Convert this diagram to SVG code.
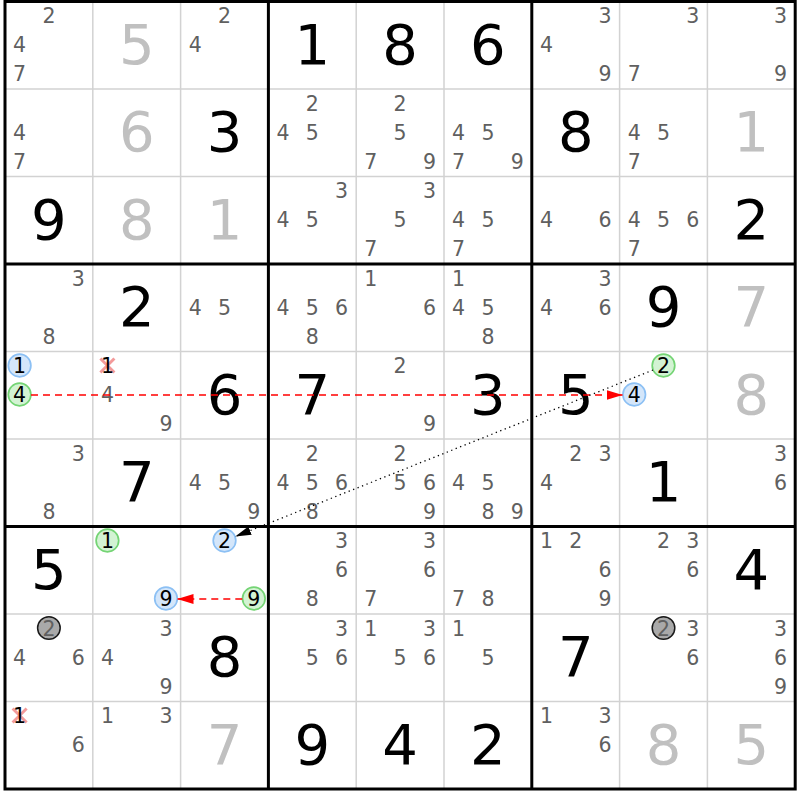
<svg xmlns="http://www.w3.org/2000/svg" width="800" height="800" viewBox="0 0 800 800">
<style>
text{font-family:"DejaVu Sans","Liberation Sans",sans-serif;text-anchor:middle}
.c{font-size:20.5px;fill:#606060}
.k{font-size:20.5px;fill:#000}
.g{font-size:56px;fill:#000}
.s{font-size:56px;fill:#c0c0c0}
.thin{stroke:#d2d2d2;stroke-width:1.5}
.thick{stroke:#000;stroke-width:3}
.bl{fill:#d4e6fa;stroke:#8cc0f4;stroke-width:1.7}
.gr{fill:#d3f3d3;stroke:#74d474;stroke-width:1.7}
.gy{fill:#a9a9a9;stroke:#1a1a1a;stroke-width:1.5}
.x{stroke:#f39a9a;stroke-width:3}
.red{stroke:#ff0000;stroke-width:1.5;stroke-dasharray:7 5;fill:none}
.dot{stroke:#000;stroke-width:1.3;stroke-dasharray:1.3 3.5;fill:none}
</style>
<defs>
<marker id="ar" markerUnits="userSpaceOnUse" markerWidth="16" markerHeight="10" refX="16" refY="5" orient="auto"><path d="M0,0 L16,5 L0,10 z" fill="#ff0000"/></marker>
<marker id="ab" markerUnits="userSpaceOnUse" markerWidth="16" markerHeight="9" refX="16" refY="4.5" orient="auto"><path d="M0,0 L16,4.5 L0,9 z" fill="#000"/></marker>
</defs>
<rect x="0" y="0" width="800" height="800" fill="#fff"/>
<g id="grid">
<g class="thin">
<line x1="92.8" y1="1.5" x2="92.8" y2="789"/><line x1="180.6" y1="1.5" x2="180.6" y2="789"/>
<line x1="356.2" y1="1.5" x2="356.2" y2="789"/><line x1="444" y1="1.5" x2="444" y2="789"/>
<line x1="619.6" y1="1.5" x2="619.6" y2="789"/><line x1="707.4" y1="1.5" x2="707.4" y2="789"/>
<line x1="5" y1="89" x2="795.2" y2="89"/><line x1="5" y1="176.5" x2="795.2" y2="176.5"/>
<line x1="5" y1="351.5" x2="795.2" y2="351.5"/><line x1="5" y1="439" x2="795.2" y2="439"/>
<line x1="5" y1="614" x2="795.2" y2="614"/><line x1="5" y1="701.5" x2="795.2" y2="701.5"/>
</g>
<g class="thick">
<line x1="268.4" y1="1.5" x2="268.4" y2="789"/><line x1="531.8" y1="1.5" x2="531.8" y2="789"/>
<line x1="5" y1="264" x2="795.2" y2="264"/><line x1="5" y1="526.5" x2="795.2" y2="526.5"/>
<rect x="5" y="1.5" width="790.2" height="787.5" fill="none"/>
</g>
</g>
<g id="r1">
<g id="r1c1"><text class="c" x="48.9" y="23">2</text><text class="c" x="19.6" y="52">4</text><text class="c" x="19.6" y="81">7</text></g>
<g id="r1c2"><text class="s" x="136.7" y="63.5">5</text></g>
<g id="r1c3"><text class="c" x="224.5" y="23">2</text><text class="c" x="195.2" y="52">4</text></g>
<g id="r1c4"><text class="g" x="312.3" y="63.5">1</text></g>
<g id="r1c5"><text class="g" x="400.1" y="63.5">8</text></g>
<g id="r1c6"><text class="g" x="487.9" y="63.5">6</text></g>
<g id="r1c7"><text class="c" x="605" y="23">3</text><text class="c" x="546.4" y="52">4</text><text class="c" x="605" y="81">9</text></g>
<g id="r1c8"><text class="c" x="692.8" y="23">3</text><text class="c" x="634.2" y="81">7</text></g>
<g id="r1c9"><text class="c" x="780.6" y="23">3</text><text class="c" x="780.6" y="81">9</text></g>
</g>
<g id="r2">
<g id="r2c1"><text class="c" x="19.6" y="139.5">4</text><text class="c" x="19.6" y="168.5">7</text></g>
<g id="r2c2"><text class="s" x="136.7" y="151">6</text></g>
<g id="r2c3"><text class="g" x="224.5" y="151">3</text></g>
<g id="r2c4"><text class="c" x="312.3" y="110.5">2</text><text class="c" x="283" y="139.5">4</text><text class="c" x="312.3" y="139.5">5</text></g>
<g id="r2c5"><text class="c" x="400.1" y="110.5">2</text><text class="c" x="400.1" y="139.5">5</text><text class="c" x="370.8" y="168.5">7</text><text class="c" x="429.4" y="168.5">9</text></g>
<g id="r2c6"><text class="c" x="458.6" y="139.5">4</text><text class="c" x="487.9" y="139.5">5</text><text class="c" x="458.6" y="168.5">7</text><text class="c" x="517.2" y="168.5">9</text></g>
<g id="r2c7"><text class="g" x="575.7" y="151">8</text></g>
<g id="r2c8"><text class="c" x="634.2" y="139.5">4</text><text class="c" x="663.5" y="139.5">5</text><text class="c" x="634.2" y="168.5">7</text></g>
<g id="r2c9"><text class="s" x="751.3" y="151">1</text></g>
</g>
<g id="r3">
<g id="r3c1"><text class="g" x="48.9" y="238.5">9</text></g>
<g id="r3c2"><text class="s" x="136.7" y="238.5">8</text></g>
<g id="r3c3"><text class="s" x="224.5" y="238.5">1</text></g>
<g id="r3c4"><text class="c" x="341.6" y="198">3</text><text class="c" x="283" y="227">4</text><text class="c" x="312.3" y="227">5</text></g>
<g id="r3c5"><text class="c" x="429.4" y="198">3</text><text class="c" x="400.1" y="227">5</text><text class="c" x="370.8" y="256">7</text></g>
<g id="r3c6"><text class="c" x="458.6" y="227">4</text><text class="c" x="487.9" y="227">5</text><text class="c" x="458.6" y="256">7</text></g>
<g id="r3c7"><text class="c" x="546.4" y="227">4</text><text class="c" x="605" y="227">6</text></g>
<g id="r3c8"><text class="c" x="634.2" y="227">4</text><text class="c" x="663.5" y="227">5</text><text class="c" x="692.8" y="227">6</text><text class="c" x="634.2" y="256">7</text></g>
<g id="r3c9"><text class="g" x="751.3" y="238.5">2</text></g>
</g>
<g id="r4">
<g id="r4c1"><text class="c" x="78.2" y="285.5">3</text><text class="c" x="48.9" y="343.5">8</text></g>
<g id="r4c2"><text class="g" x="136.7" y="326">2</text></g>
<g id="r4c3"><text class="c" x="195.2" y="314.5">4</text><text class="c" x="224.5" y="314.5">5</text></g>
<g id="r4c4"><text class="c" x="283" y="314.5">4</text><text class="c" x="312.3" y="314.5">5</text><text class="c" x="341.6" y="314.5">6</text><text class="c" x="312.3" y="343.5">8</text></g>
<g id="r4c5"><text class="c" x="370.8" y="285.5">1</text><text class="c" x="429.4" y="314.5">6</text></g>
<g id="r4c6"><text class="c" x="458.6" y="285.5">1</text><text class="c" x="458.6" y="314.5">4</text><text class="c" x="487.9" y="314.5">5</text><text class="c" x="487.9" y="343.5">8</text></g>
<g id="r4c7"><text class="c" x="605" y="285.5">3</text><text class="c" x="546.4" y="314.5">4</text><text class="c" x="605" y="314.5">6</text></g>
<g id="r4c8"><text class="g" x="663.5" y="326">9</text></g>
<g id="r4c9"><text class="s" x="751.3" y="326">7</text></g>
</g>
<g id="r5">
<g id="r5c1"><circle class="bl" cx="19.6" cy="365.5" r="11.3"/><text class="k" x="19.6" y="373">1</text><circle class="gr" cx="19.6" cy="394.5" r="11.3"/><text class="k" x="19.6" y="402">4</text></g>
<g id="r5c2"><line class="x" x1="100.4" y1="358.5" x2="114.4" y2="372.5"/><line class="x" x1="114.4" y1="358.5" x2="100.4" y2="372.5"/><text class="k" x="107.4" y="373">1</text><text class="c" x="107.4" y="402">4</text><text class="c" x="166" y="431">9</text></g>
<g id="r5c3"><text class="g" x="224.5" y="413.5">6</text></g>
<g id="r5c4"><text class="g" x="312.3" y="413.5">7</text></g>
<g id="r5c5"><text class="c" x="400.1" y="373">2</text><text class="c" x="429.4" y="431">9</text></g>
<g id="r5c6"><text class="g" x="487.9" y="413.5">3</text></g>
<g id="r5c7"><text class="g" x="575.7" y="413.5">5</text></g>
<g id="r5c8"><circle class="gr" cx="663.5" cy="365.5" r="11.3"/><text class="k" x="663.5" y="373">2</text><circle class="bl" cx="634.2" cy="394.5" r="11.3"/><text class="k" x="634.2" y="402">4</text></g>
<g id="r5c9"><text class="s" x="751.3" y="413.5">8</text></g>
</g>
<g id="r6">
<g id="r6c1"><text class="c" x="78.2" y="460.5">3</text><text class="c" x="48.9" y="518.5">8</text></g>
<g id="r6c2"><text class="g" x="136.7" y="501">7</text></g>
<g id="r6c3"><text class="c" x="195.2" y="489.5">4</text><text class="c" x="224.5" y="489.5">5</text><text class="c" x="253.8" y="518.5">9</text></g>
<g id="r6c4"><text class="c" x="312.3" y="460.5">2</text><text class="c" x="283" y="489.5">4</text><text class="c" x="312.3" y="489.5">5</text><text class="c" x="341.6" y="489.5">6</text><text class="c" x="312.3" y="518.5">8</text></g>
<g id="r6c5"><text class="c" x="400.1" y="460.5">2</text><text class="c" x="400.1" y="489.5">5</text><text class="c" x="429.4" y="489.5">6</text><text class="c" x="429.4" y="518.5">9</text></g>
<g id="r6c6"><text class="c" x="458.6" y="489.5">4</text><text class="c" x="487.9" y="489.5">5</text><text class="c" x="487.9" y="518.5">8</text><text class="c" x="517.2" y="518.5">9</text></g>
<g id="r6c7"><text class="c" x="575.7" y="460.5">2</text><text class="c" x="605" y="460.5">3</text><text class="c" x="546.4" y="489.5">4</text></g>
<g id="r6c8"><text class="g" x="663.5" y="501">1</text></g>
<g id="r6c9"><text class="c" x="780.6" y="460.5">3</text><text class="c" x="780.6" y="489.5">6</text></g>
</g>
<g id="r7">
<g id="r7c1"><text class="g" x="48.9" y="588.5">5</text></g>
<g id="r7c2"><circle class="gr" cx="107.4" cy="540.5" r="11.3"/><text class="k" x="107.4" y="548">1</text><circle class="bl" cx="166" cy="598.5" r="11.3"/><text class="k" x="166" y="606">9</text></g>
<g id="r7c3"><circle class="bl" cx="224.5" cy="540.5" r="11.3"/><text class="k" x="224.5" y="548">2</text><circle class="gr" cx="253.8" cy="598.5" r="11.3"/><text class="k" x="253.8" y="606">9</text></g>
<g id="r7c4"><text class="c" x="341.6" y="548">3</text><text class="c" x="341.6" y="577">6</text><text class="c" x="312.3" y="606">8</text></g>
<g id="r7c5"><text class="c" x="429.4" y="548">3</text><text class="c" x="429.4" y="577">6</text><text class="c" x="370.8" y="606">7</text></g>
<g id="r7c6"><text class="c" x="458.6" y="606">7</text><text class="c" x="487.9" y="606">8</text></g>
<g id="r7c7"><text class="c" x="546.4" y="548">1</text><text class="c" x="575.7" y="548">2</text><text class="c" x="605" y="577">6</text><text class="c" x="605" y="606">9</text></g>
<g id="r7c8"><text class="c" x="663.5" y="548">2</text><text class="c" x="692.8" y="548">3</text><text class="c" x="692.8" y="577">6</text></g>
<g id="r7c9"><text class="g" x="751.3" y="588.5">4</text></g>
</g>
<g id="r8">
<g id="r8c1"><circle class="gy" cx="48.9" cy="628" r="11.3"/><text class="c" x="48.9" y="635.5">2</text><text class="c" x="19.6" y="664.5">4</text><text class="c" x="78.2" y="664.5">6</text></g>
<g id="r8c2"><text class="c" x="166" y="635.5">3</text><text class="c" x="107.4" y="664.5">4</text><text class="c" x="166" y="693.5">9</text></g>
<g id="r8c3"><text class="g" x="224.5" y="676">8</text></g>
<g id="r8c4"><text class="c" x="341.6" y="635.5">3</text><text class="c" x="312.3" y="664.5">5</text><text class="c" x="341.6" y="664.5">6</text></g>
<g id="r8c5"><text class="c" x="370.8" y="635.5">1</text><text class="c" x="429.4" y="635.5">3</text><text class="c" x="400.1" y="664.5">5</text><text class="c" x="429.4" y="664.5">6</text></g>
<g id="r8c6"><text class="c" x="458.6" y="635.5">1</text><text class="c" x="487.9" y="664.5">5</text></g>
<g id="r8c7"><text class="g" x="575.7" y="676">7</text></g>
<g id="r8c8"><circle class="gy" cx="663.5" cy="628" r="11.3"/><text class="c" x="663.5" y="635.5">2</text><text class="c" x="692.8" y="635.5">3</text><text class="c" x="692.8" y="664.5">6</text></g>
<g id="r8c9"><text class="c" x="780.6" y="635.5">3</text><text class="c" x="780.6" y="664.5">6</text><text class="c" x="780.6" y="693.5">9</text></g>
</g>
<g id="r9">
<g id="r9c1"><line class="x" x1="12.6" y1="708.5" x2="26.6" y2="722.5"/><line class="x" x1="26.6" y1="708.5" x2="12.6" y2="722.5"/><text class="k" x="19.6" y="723">1</text><text class="c" x="78.2" y="752">6</text></g>
<g id="r9c2"><text class="c" x="107.4" y="723">1</text><text class="c" x="166" y="723">3</text></g>
<g id="r9c3"><text class="s" x="224.5" y="763.5">7</text></g>
<g id="r9c4"><text class="g" x="312.3" y="763.5">9</text></g>
<g id="r9c5"><text class="g" x="400.1" y="763.5">4</text></g>
<g id="r9c6"><text class="g" x="487.9" y="763.5">2</text></g>
<g id="r9c7"><text class="c" x="546.4" y="723">1</text><text class="c" x="605" y="723">3</text><text class="c" x="605" y="752">6</text></g>
<g id="r9c8"><text class="s" x="663.5" y="763.5">8</text></g>
<g id="r9c9"><text class="s" x="751.3" y="763.5">5</text></g>
</g>
<g id="connectors">
<line class="red" x1="31" y1="395" x2="622.5" y2="395" marker-end="url(#ar)"/>
<line class="red" x1="242.3" y1="599" x2="177.5" y2="599" marker-end="url(#ar)"/>
<line class="dot" x1="653" y1="370" x2="235.2" y2="536.6" marker-end="url(#ab)"/>
</g>
</svg>
